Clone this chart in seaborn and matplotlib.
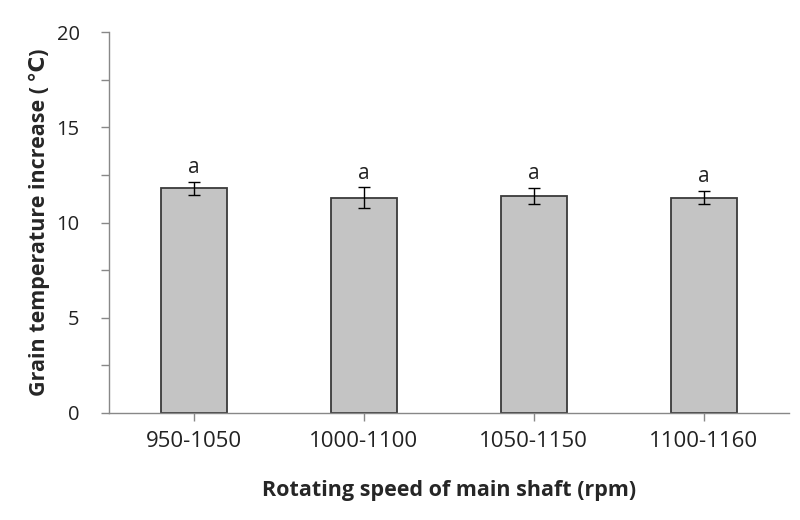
import numpy as np
import pandas as pd
import matplotlib
matplotlib.use("Agg")
import matplotlib.pyplot as plt
from matplotlib.ticker import MultipleLocator
import seaborn as sns

# -------------------------------
# Data
# -------------------------------
speeds = ["950-1050", "1000-1100", "1050-1150", "1100-1160"]
temp_increase = [11.8, 11.3, 11.4, 11.3]
temp_err = [0.35, 0.55, 0.4, 0.35]
letters = ["a", "a", "a", "a"]

df = pd.DataFrame({"Speed": speeds, "Temp": temp_increase})

# -------------------------------
# Plot
# -------------------------------
sns.set_style("white")
plt.rcParams["font.family"] = ["Open Sans", "DejaVu Sans"]

fig = plt.figure(figsize=(8, 5.2), dpi=100)
ax = fig.add_axes([0.136, 0.206, 0.85, 0.732])

sns.barplot(data=df, x="Speed", y="Temp", ax=ax, width=0.39,
            color="#c4c4c4", edgecolor="#3a3a3a", linewidth=1.3,
            errorbar=None, saturation=1)

ax.errorbar(range(len(speeds)), temp_increase, yerr=temp_err, fmt="none",
            ecolor="black", elinewidth=1, capsize=4, capthick=1)

for i, (v, e, lab) in enumerate(zip(temp_increase, temp_err, letters)):
    ax.text(i, v + e + 0.2, lab, ha="center", va="bottom", fontsize=15,
            color="#222222")

ax.set_ylim(0, 20)
ax.set_xlim(-0.5, 3.5)
ax.yaxis.set_major_locator(MultipleLocator(5))
ax.yaxis.set_minor_locator(MultipleLocator(2.5))

ax.set_xlabel("Rotating speed of main shaft (rpm)", fontsize=15.5,
              fontweight="bold", labelpad=20)
ax.set_ylabel("Grain temperature increase (\u2009℃)", fontsize=15.5,
              fontweight="bold", labelpad=5)

ax.tick_params(axis="both", which="both", direction="out", color="#888888",
               length=6, width=1, labelcolor="#222222")
ax.tick_params(axis="y", which="both", left=True, labelsize=14.5, pad=15)
ax.tick_params(axis="x", bottom=True, labelsize=16, pad=7)

sns.despine(ax=ax)
for s in ["left", "bottom"]:
    ax.spines[s].set_color("#888888")
    ax.spines[s].set_linewidth(1)

fig.savefig("out.png", dpi=100)
